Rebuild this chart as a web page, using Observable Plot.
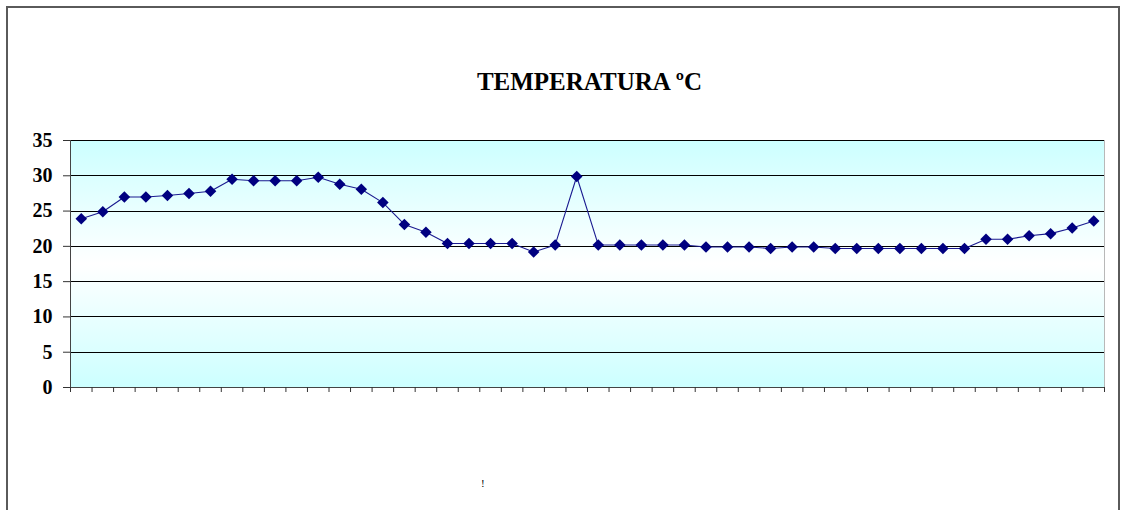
<!DOCTYPE html>
<html><head><meta charset="utf-8">
<script src="https://cdn.jsdelivr.net/npm/d3@7"></script>
<script src="https://cdn.jsdelivr.net/npm/@observablehq/plot@0.6"></script>
<style>
body{margin:0;background:#fff;}
#wrap{position:relative;width:1121px;height:510px;overflow:hidden;font-family:"Liberation Serif","Times New Roman",serif;background:#fff;}
#title{position:absolute;left:0;width:1179px;top:67px;text-align:center;font-weight:bold;font-size:25px;line-height:30px;color:#000;}
.bl{position:absolute;background:#5a5a5a;}
#chart{position:absolute;left:0;top:100px;}
#mark{position:absolute;left:481px;top:477px;font-size:11px;color:#000;}
</style></head>
<body>
<div id="wrap">
  <div class="bl" style="left:6px;top:6px;width:1114px;height:2px;"></div>
  <div class="bl" style="left:6px;top:6px;width:2px;height:504px;"></div>
  <div class="bl" style="left:1118px;top:6px;width:2px;height:504px;"></div>
  <div id="title">TEMPERATURA ºC</div>
  <div id="chart"></div>
  <div id="mark">!</div>
</div>
<script>
const temperature = [23.9, 24.9, 27.0, 27.0, 27.2, 27.5, 27.8, 29.5, 29.3, 29.3, 29.3, 29.8,
  28.8, 28.1, 26.2, 23.1, 22.0, 20.4, 20.4, 20.4, 20.4, 19.2, 20.2, 29.9,
  20.2, 20.2, 20.2, 20.2, 20.2, 19.9, 19.9, 19.9, 19.7, 19.9, 19.9, 19.7,
  19.7, 19.7, 19.7, 19.7, 19.7, 19.7, 21.0, 21.0, 21.5, 21.8, 22.6, 23.6];
const sample = temperature.map((_, i) => i + 1);
const yTicks = [0, 5, 10, 15, 20, 25, 30, 35];
const xTickBounds = [0, ...sample].map(v => v + 0.5);

const data = sample.map((s, i) => ({sample: s, temp: temperature[i]}));

const chart = Plot.plot({
  width: 1121, height: 410,
  marginLeft: 70, marginRight: 17, marginTop: 40, marginBottom: 123,
  x: {domain: [0.5, sample.length + 0.5], axis: null},
  y: {domain: [0, 35], axis: null},
  style: {background: "transparent", overflow: "visible", fontFamily: '"Liberation Serif","Times New Roman",serif', fontSize: "20px", fontWeight: "bold", color: "#000"},
  marks: [
    Plot.frame({fill: "url(#bgGrad)", stroke: "#b8b8b8"}),
    Plot.ruleY(yTicks.filter(v => v > 0), {stroke: "#000", strokeWidth: 1, shapeRendering: "crispEdges"}),
    Plot.ruleY([0], {stroke: "#444", strokeWidth: 1, shapeRendering: "crispEdges"}),
    Plot.ruleX([0.5], {stroke: "#444", strokeWidth: 1, shapeRendering: "crispEdges"}),
    Plot.axisY({ticks: yTicks, tickSize: 7, tickPadding: 11, stroke: "#333", label: null}),
    Plot.axisX({ticks: xTickBounds, tickSize: 5, tickFormat: () => "", stroke: "#333", label: null}),
    Plot.line(data, {x: "sample", y: "temp", stroke: "#1a1a90", strokeWidth: 1.1}),
    Plot.dot(data, {x: "sample", y: "temp", symbol: "diamond2", r: 5.2, fill: "#000080", stroke: "none"})
  ]
});

const ns = "http://www.w3.org/2000/svg";
const defs = document.createElementNS(ns, "defs");
const grad = document.createElementNS(ns, "linearGradient");
grad.setAttribute("id", "bgGrad");
grad.setAttribute("x1", "0"); grad.setAttribute("y1", "0");
grad.setAttribute("x2", "0"); grad.setAttribute("y2", "1");
[["0", "#ccffff"], ["0.5", "#ffffff"], ["1", "#ccffff"]].forEach(([o, c]) => {
  const st = document.createElementNS(ns, "stop");
  st.setAttribute("offset", o); st.setAttribute("stop-color", c);
  grad.appendChild(st);
});
defs.appendChild(grad);
chart.insertBefore(defs, chart.firstChild);
document.getElementById("chart").appendChild(chart);
</script>
</body></html>
